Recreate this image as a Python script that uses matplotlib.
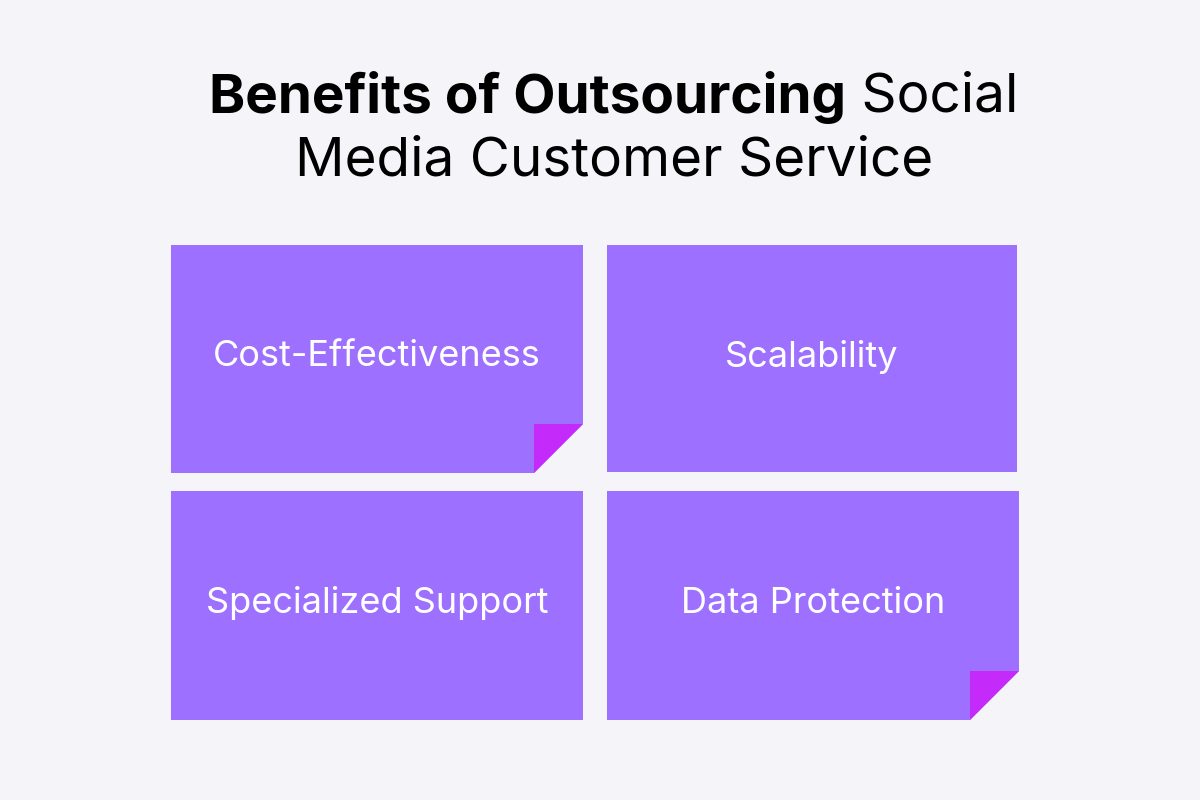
import matplotlib.pyplot as plt
from matplotlib.patches import Polygon

labels = ["Cost-Effectiveness", "Scalability", "Specialized Support", "Data Protection"]
# box edges in pixels: left, right, top, bottom
lefts = [171, 607, 171, 607]
rights = [583, 1017, 583, 1019]
tops = [245, 245, 491, 491]
bottoms = [473, 472, 720, 720]
folded = [True, False, False, True]

BG = "#F5F4F9"
BOX = "#9D70FF"
FOLD = "#C42BFA"
FOLD_SIZE = 49

fig = plt.figure(figsize=(12, 8), dpi=100, facecolor=BG)
ax = fig.add_axes([0, 0, 1, 1])
ax.set_xlim(0, 1200)
ax.set_ylim(800, 0)
ax.axis("off")

for lab, l, r, t, b, f in zip(labels, lefts, rights, tops, bottoms, folded):
    if f:
        pts = [(l, t), (r, t), (r, b - FOLD_SIZE), (r - FOLD_SIZE, b), (l, b)]
        ax.add_patch(Polygon(pts, closed=True, facecolor=BOX, edgecolor="none"))
        tri = [(r - FOLD_SIZE, b - FOLD_SIZE), (r, b - FOLD_SIZE), (r - FOLD_SIZE, b)]
        ax.add_patch(Polygon(tri, closed=True, facecolor=FOLD, edgecolor="none"))
    else:
        ax.add_patch(Polygon([(l, t), (r, t), (r, b), (l, b)], closed=True,
                             facecolor=BOX, edgecolor="none"))
    ax.text((l + r) / 2, (t + b) / 2 - 2, lab, color="white", fontsize=26,
            family="Inter", ha="center", va="center")

# title: bold part + regular part on line 1, centred as a whole
fs = 39.5
bold = ax.text(0, 97, "Benefits of Outsourcing", fontsize=fs, family="Inter",
               fontweight="bold", color="black", va="center", ha="left")
reg = ax.text(0, 97, " Social", fontsize=fs, family="Inter", color="black",
              va="center", ha="left")
fig.canvas.draw()
r = fig.canvas.get_renderer()
wb = bold.get_window_extent(r).width
wr = reg.get_window_extent(r).width
x0 = 614 - (wb + wr) / 2
bold.set_x(x0)
reg.set_x(x0 + wb)
ax.text(614, 162, "Media Customer Service", fontsize=fs, family="Inter",
        color="black", va="center", ha="center")

fig.savefig("out.png", dpi=100, facecolor=BG)
